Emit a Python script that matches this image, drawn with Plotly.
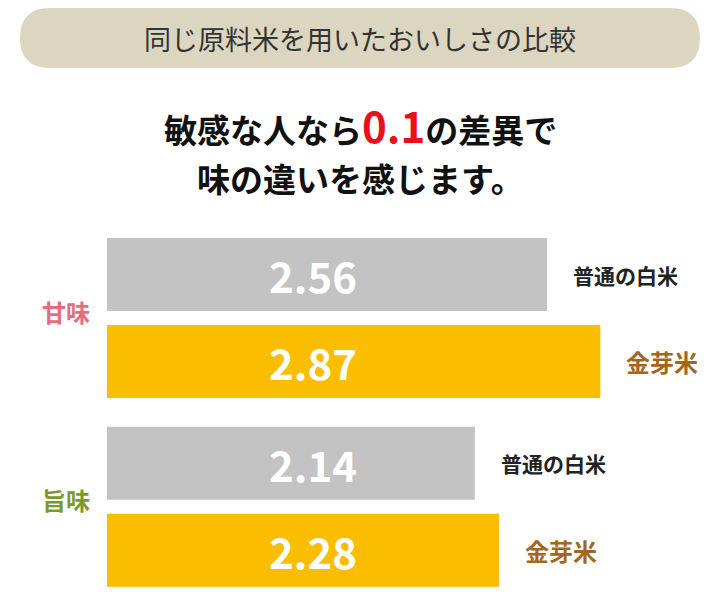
import plotly.graph_objects as go

groups = ["甘味", "甘味", "旨味", "旨味"]
rice = ["普通の白米", "金芽米", "普通の白米", "金芽米"]
values = [2.56, 2.87, 2.14, 2.28]
bar_colors = ["#c3c3c3", "#fbbd00", "#c3c3c3", "#fbbd00"]
label_colors = {"普通の白米": "#222222", "金芽米": "#a3661f"}
group_colors = {"甘味": "#e66b7c", "旨味": "#7c9a28"}

FONT = "Noto Sans CJK JP"
OFF = 8          # page body margin
PX = 87          # pixels per y unit
Y0 = 274.5 - OFF # pixel of the first bar centre


def ypix(p):
    return (p - OFF - Y0) / PX


# position: group index * 2.17 + item index
pos = []
for i, g in enumerate(groups):
    gi = 0 if g == "甘味" else 1
    pos.append(gi * 2.17 + (i % 2))

fig = go.Figure(go.Bar(
    x=values, y=pos, orientation="h", width=0.84,
    marker=dict(color=bar_colors, line=dict(width=0)),
    hoverinfo="skip",
))

for v, p, r in zip(values, pos, rice):
    fig.add_annotation(x=1.2, y=p, text=f"{v:.2f}", showarrow=False,
                       font=dict(family=FONT, size=42, color="white", weight="bold"))
    fig.add_annotation(x=v, y=p, text=r, showarrow=False, xanchor="left", xshift=24,
                       font=dict(family=FONT, size=21 if r != "金芽米" else 24,
                                 color=label_colors[r], weight="bold"))

for g in ["甘味", "旨味"]:
    ps = [p for p, gg in zip(pos, groups) if gg == g]
    fig.add_annotation(x=(40 - OFF) / 720, xref="paper", y=sum(ps) / 2 - 0.08, text=g, showarrow=False,
                       font=dict(family=FONT, size=24, color=group_colors[g], weight="bold"))

fig.add_shape(type="path", xref="paper", yref="paper",
              path="M 0.0583 0.899 L 0.9194 0.899 Q 0.961 0.899 0.961 0.9495 Q 0.961 1.0 0.9194 1.0 "
                   "L 0.0583 1.0 Q 0.0167 1.0 0.0167 0.9495 Q 0.0167 0.899 0.0583 0.899 Z",
              fillcolor="#dcd6c0", line=dict(width=0), layer="below")
cx = (360 - OFF) / 720
fig.add_annotation(x=cx, y=ypix(38), xref="paper", yref="y", showarrow=False,
                   text="同じ原料米を用いたおいしさの比較",
                   font=dict(family=FONT, size=27, color="#333333"))
fig.add_annotation(x=cx, y=ypix(124), xref="paper", yref="y", showarrow=False,
                   text="敏感な人なら<span style='color:#e8101a;font-size:42px'>0.1</span>の差異で",
                   font=dict(family=FONT, size=33, color="#111111", weight="bold"))
fig.add_annotation(x=cx, y=ypix(178), xref="paper", yref="y", showarrow=False,
                   text="味の違いを感じます。",
                   font=dict(family=FONT, size=33, color="#111111", weight="bold"))

fig.update_layout(
    width=720, height=594, margin=dict(l=0, r=0, t=0, b=0),
    paper_bgcolor="white", plot_bgcolor="white", showlegend=False,
    xaxis=dict(domain=[(107 - OFF) / 720, 1], range=[0, (720 - 107 + OFF) / 171.9], visible=False),
    yaxis=dict(range=[(594 - Y0) / PX, -Y0 / PX], visible=False),
)

fig.write_html("out.html")
